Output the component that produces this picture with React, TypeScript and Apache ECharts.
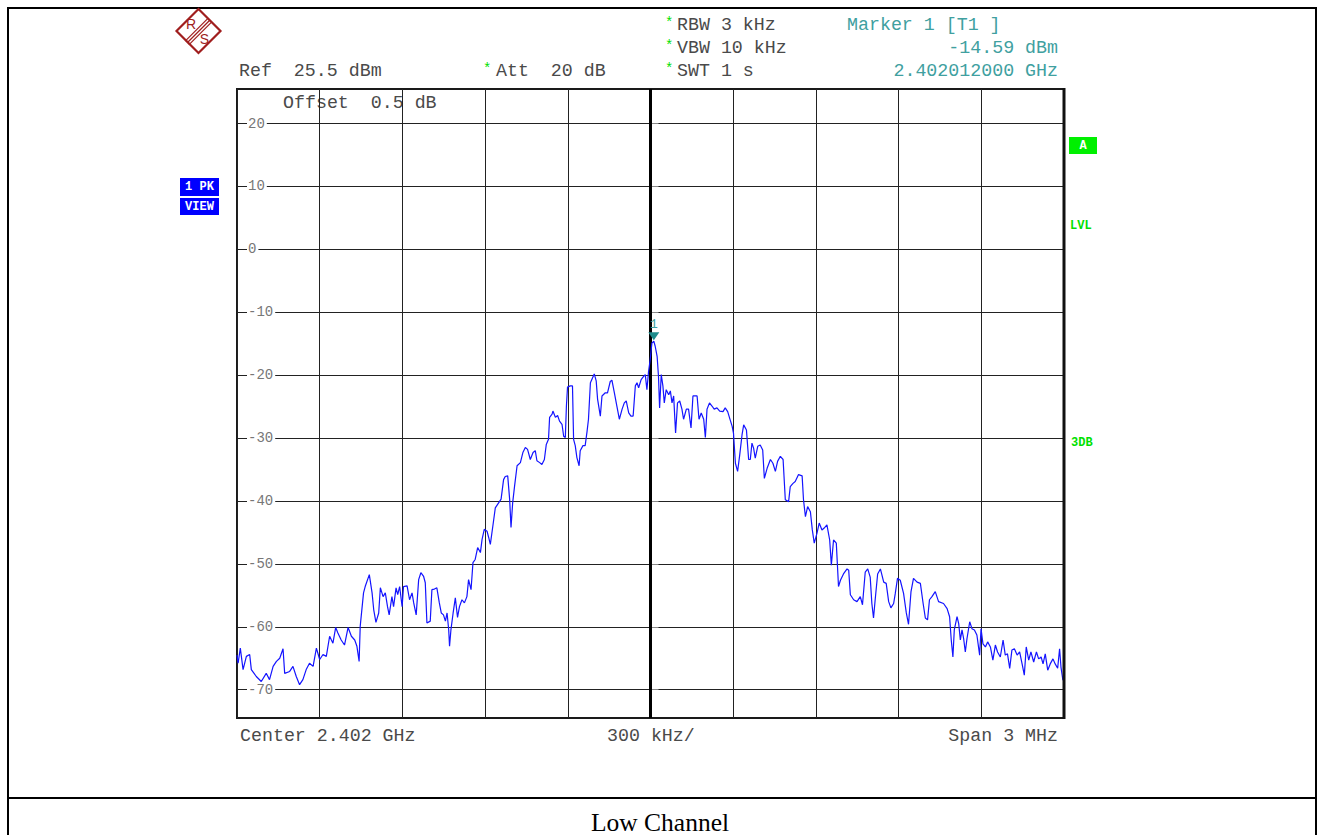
import React, { useEffect, useRef } from "react";
import * as echarts from "echarts";

// Frequency offsets from the 2.402 GHz centre, in kHz
const freqKHz = [
  -1500, -1496, -1488, -1478, -1466, -1454, -1448, -1430, -1412, -1394, -1382, -1369, -1357, -1345, -1333, -1327, -1309, -1297, -1285, -1273, -1261, -1249, -1237, -1224, -1212, -1200, -1188, -1176, -1164, -1152, -1142, -1134, -1122, -1110, -1097, -1085, -1073, -1065, -1057,
  -1053, -1041, -1035, -1020, -1010, -1004, -996, -986, -980, -970, -962, -954, -948, -938, -932, -923, -917, -910, -901, -896, -883, -874, -865, -859, -850, -841, -833, -823, -817, -811, -799, -793, -784, -775, -766, -759, -751, -744, -738, -732, -729, -724, -716, -708, -700, -693, -684, -675, -666, -660, -651, -644, -636, -627,
  -617, -611, -603, -593, -587, -581, -571, -563, -551, -542, -533, -527, -518, -511, -506, -500, -493, -484, -472, -463, -454, -446, -436, -426, -418, -412, -402, -394, -385, -378, -370, -366, -357, -354, -345, -337, -330, -321, -315, -309, -305, -301, -291, -283, -279, -273, -267, -259, -255, -245, -237, -230, -225, -218, -212, -204, -197, -192,
  -182, -176, -164, -156, -146, -140, -131, -122, -113, -103, -95, -88, -79, -71, -63, -55, -49, -43, -34, -25, -19, -13, -7, -1, 5, 12, 17, 24, 29, 33, 39, 45, 50, 57, 66, 72, 78, 84, 91, 98, 106, 114, 120, 130, 138, 147, 154, 163, 169, 176, 184, 193, 199, 205, 214, 223, 231, 241, 251,
  263, 271, 280, 289, 296, 301, 308, 316, 323, 332, 338, 348, 356, 362, 368, 374, 380, 389, 398, 407, 413, 423, 435, 444, 453, 461, 471, 481, 489, 501, 507, 517, 525, 537, 550, 555, 562, 570, 580, 587, 594, 604, 612, 622, 630, 640, 650, 656, 664, 674, 682,
  689, 700, 713, 719, 725, 737, 749, 761, 769, 779, 788, 797, 803, 809, 815, 824, 834, 846, 855, 864, 872, 882, 888, 896, 906, 918, 928, 936, 945, 954, 967, 979, 989, 997, 1005, 1012, 1021, 1033, 1045,
  1063, 1076, 1085, 1091, 1097, 1102, 1112, 1118, 1124, 1130, 1136, 1142, 1148, 1158, 1166, 1175, 1184, 1194, 1199, 1206, 1215, 1223, 1233, 1242, 1251, 1259, 1269, 1279, 1287, 1295, 1303, 1311, 1320, 1330, 1339, 1348, 1356, 1363, 1372, 1380, 1390, 1400, 1408, 1417, 1424, 1432, 1441, 1450, 1460, 1468, 1477, 1484, 1489, 1496, 1500,
];

// Trace level, dBm
const levelDbm = [
  -64.5, -65.8, -63.4, -66.8, -64.7, -64.4, -66.8, -67.9, -68.7, -67.4, -68.4, -66.3, -65.5, -65.0, -63.5, -67.4, -67.1, -66.3, -67.9, -69.2, -68.4, -66.8, -65.8, -66.3, -63.4, -65.2, -64.4, -64.7, -61.5, -62.6, -60.1, -61.0, -62.1, -62.9, -60.1, -61.5, -62.1, -63.1, -65.5,
  -59.9, -54.6, -53.6, -51.7, -54.6, -57.3, -59.3, -57.8, -53.8, -55.2, -54.6, -56.8, -58.1, -55.2, -56.8, -53.8, -54.9, -53.6, -56.8, -53.6, -53.5, -55.7, -54.6, -56.2, -58.1, -52.5, -51.4, -52.0, -53.0, -59.4, -59.1, -54.1, -54.0, -53.8, -56.2, -57.8, -58.1, -59.1, -57.8, -60.5, -63.1, -60.5, -57.8, -55.4, -58.5, -56.8, -55.7, -56.2, -55.2, -52.5, -54.1, -49.8, -49.3, -47.4,
  -48.2, -46.1, -44.5, -44.8, -45.8, -46.9, -43.7, -41.1, -40.3, -39.7, -36.6, -36.1, -36.0, -39.7, -44.2, -40.3, -37.6, -34.4, -33.9, -32.3, -31.5, -31.8, -33.4, -32.3, -32.0, -33.6, -33.9, -34.2, -33.4, -31.0, -30.2, -26.7, -26.2, -25.7, -26.7, -26.4, -27.3, -27.8, -29.7, -29.9, -24.9, -21.9, -21.7, -21.7, -30.2, -31.2, -33.1, -34.4, -32.0, -31.2, -31.2, -28.9, -27.0, -21.2, -20.6, -19.8, -20.9, -23.8,
  -26.5, -23.3, -22.8, -22.8, -21.0, -20.8, -22.8, -24.9, -27.0, -25.4, -24.4, -24.1, -26.0, -26.5, -26.5, -21.7, -21.2, -22.0, -20.7, -20.2, -19.9, -22.3, -19.4, -17.5, -14.9, -14.59, -15.4, -17.0, -20.2, -25.2, -19.9, -21.7, -24.4, -22.3, -23.1, -22.5, -24.4, -23.3, -29.2, -24.4, -24.1, -25.4, -27.0, -25.4, -25.4, -28.4, -23.3, -23.3, -23.3, -27.0, -26.0, -27.0, -29.9, -25.4, -24.4, -24.9, -25.4, -25.2, -25.7,
  -25.8, -25.2, -25.8, -27.1, -28.1, -29.2, -34.0, -35.3, -32.9, -29.5, -27.9, -28.7, -33.4, -33.4, -30.8, -31.6, -33.2, -31.3, -31.1, -31.9, -36.4, -34.8, -33.4, -34.0, -35.3, -33.7, -32.9, -33.4, -39.8, -40.1, -37.7, -37.2, -36.9, -35.8, -36.0, -39.8, -42.5, -40.9, -41.7, -44.6, -46.7, -45.1, -43.5, -44.6, -44.3, -43.8, -46.2, -50.2, -46.2, -46.7, -53.6,
  -52.6, -51.6, -50.8, -51.0, -54.9, -55.7, -56.0, -55.2, -56.5, -51.3, -50.8, -52.1, -56.3, -58.6, -55.7, -51.6, -50.8, -52.9, -53.1, -56.0, -57.0, -56.3, -54.7, -52.3, -52.6, -54.7, -57.8, -59.6, -54.4, -52.3, -52.9, -53.1, -56.3, -58.6, -58.9, -55.7, -55.2, -54.4, -56.0,
  -56.3, -57.1, -58.4, -62.1, -64.8, -60.5, -58.4, -59.5, -62.1, -60.5, -61.9, -64.0, -61.9, -59.2, -60.3, -60.5, -61.3, -64.5, -60.3, -62.7, -63.2, -62.4, -63.2, -65.3, -62.9, -64.0, -64.8, -62.1, -64.5, -64.3, -66.6, -63.7, -63.5, -64.5, -64.0, -65.9, -67.7, -63.2, -65.3, -64.0, -65.6, -64.0, -65.1, -64.8, -65.9, -64.3, -66.9, -65.9, -65.1, -65.9, -66.6, -63.5, -66.4, -68.5, -68.0,
];

const yTicks = [20, 10, 0, -10, -20, -30, -40, -50, -60, -70];
const refLevel = 25.5;
const spanKHz = 3000;
const divKHz = 300;
const markerFreqKHz = 12;
const markerLevel = -14.59;

const headerLeft = { ref: "Ref  25.5 dBm", att: "Att  20 dB", offset: "Offset  0.5 dB" };
const headerMid = ["RBW 3 kHz", "VBW 10 kHz", "SWT 1 s"];
const markerTexts = ["Marker 1 [T1 ]", "-14.59 dBm", "2.402012000 GHz"];
const footerTexts = { center: "Center 2.402 GHz", div: "300 kHz/", span: "Span 3 MHz" };
const caption = "Low Channel";

const MONO = '"Liberation Mono", "Courier New", monospace';
const GREY = "#4a4a4a";
const TEAL = "#40a0a0";
const GREEN = "#00e000";

function txt(text: string, x: number, y: number, extra: any = {}) {
  return {
    type: "text",
    x,
    y,
    silent: true,
    style: {
      text,
      fontFamily: MONO,
      fontSize: 18.3,
      fill: GREY,
      align: "left",
      verticalAlign: "middle",
      ...extra,
    },
  };
}

export default function App() {
  const ref = useRef<HTMLDivElement>(null);

  useEffect(() => {
    if (!ref.current) return;
    const chart = echarts.init(ref.current, null, { renderer: "svg" });
    const data = freqKHz.map((f, i) => [f, levelDbm[i]]);

    const rows = [25, 48, 71];
    const LOGO = "#a01e1e";
    const graphic: any[] = [
      // outer frame
      { type: "rect", shape: { x: 8, y: 8, width: 1308, height: 840 }, style: { fill: "none", stroke: "#000", lineWidth: 2 }, silent: true },
      { type: "line", shape: { x1: 8, y1: 798, x2: 1316, y2: 798 }, style: { stroke: "#000", lineWidth: 2 }, silent: true },
      { type: "text", x: 660, y: 822, silent: true, style: { text: caption, fontFamily: '"Liberation Serif", "Times New Roman", serif', fontSize: 25.5, fill: "#000", align: "center", verticalAlign: "middle" } },
      // logo
      { type: "polygon", shape: { points: [[198.5, 9], [220.5, 31], [198.5, 53], [176.5, 31]] }, style: { fill: "#fff", stroke: LOGO, lineWidth: 2.2 }, silent: true },
      ...[-1.8, 0, 1.8].map((k) => ({ type: "line", shape: { x1: 210 + k, y1: 20 + k, x2: 187 + k, y2: 43 + k }, style: { stroke: LOGO, lineWidth: 1.2 }, silent: true })),
      { type: "text", x: 191, y: 23.5, silent: true, style: { text: "R", fontFamily: '"Liberation Sans", sans-serif', fontSize: 14, fill: LOGO, align: "center", verticalAlign: "middle" } },
      { type: "text", x: 204.5, y: 38.5, silent: true, style: { text: "S", fontFamily: '"Liberation Sans", sans-serif', fontSize: 14, fill: LOGO, align: "center", verticalAlign: "middle" } },
      // header
      txt(headerLeft.ref, 239, rows[2]),
      txt("*", 483, rows[2] - 2, { fill: GREEN, fontSize: 14 }),
      txt(headerLeft.att, 496, rows[2]),
      ...headerMid.flatMap((t, i) => [txt("*", 665, rows[i] - 2, { fill: GREEN, fontSize: 14 }), txt(t, 677, rows[i])]),
      txt(markerTexts[0], 847, rows[0], { fill: TEAL }),
      txt(markerTexts[1], 1058, rows[1], { fill: TEAL, align: "right" }),
      txt(markerTexts[2], 1058, rows[2], { fill: TEAL, align: "right" }),
      txt(headerLeft.offset, 283, 103),
      // footer
      txt(footerTexts.center, 240, 736),
      txt(footerTexts.div, 607, 736),
      txt(footerTexts.span, 1058, 736, { align: "right" }),
      // thicker right frame edge
      { type: "line", shape: { x1: 1064, y1: 88, x2: 1064, y2: 719 }, style: { stroke: "#111", lineWidth: 3 }, silent: true, z: 10 },
      // left indicator boxes
      { type: "rect", shape: { x: 180, y: 178, width: 39, height: 18 }, style: { fill: "#0000ff" }, silent: true },
      { type: "rect", shape: { x: 180, y: 198, width: 39, height: 17 }, style: { fill: "#0000ff" }, silent: true },
      txt("1 PK", 199.5, 187, { fill: "#fff", fontSize: 12, fontWeight: "bold", align: "center" }),
      txt("VIEW", 199.5, 206.5, { fill: "#fff", fontSize: 12, fontWeight: "bold", align: "center" }),
      // right indicators
      { type: "rect", shape: { x: 1069, y: 137, width: 28, height: 17 }, style: { fill: "#00f000" }, silent: true },
      txt("A", 1083, 146, { fill: "#fff", fontSize: 12, fontWeight: "bold", align: "center" }),
      txt("LVL", 1070, 226, { fill: GREEN, fontSize: 12, fontWeight: "bold" }),
      txt("3DB", 1071, 443, { fill: GREEN, fontSize: 12, fontWeight: "bold" }),
    ];

    chart.setOption({
      animation: false,
      backgroundColor: "#fff",
      grid: {
        left: 237,
        top: 89,
        width: 827,
        height: 629,
        show: true,
        borderColor: "#1a1a1a",
        borderWidth: 2,
        backgroundColor: "transparent",
      },
      xAxis: {
        type: "value",
        min: -spanKHz / 2,
        max: spanKHz / 2,
        interval: divKHz,
        axisLine: { show: false },
        axisTick: { show: false },
        axisLabel: { show: false },
        splitLine: { show: true, lineStyle: { color: "#222", width: 1 } },
      },
      yAxis: {
        type: "value",
        min: refLevel - 100,
        max: refLevel,
        axisLine: { show: false },
        axisTick: { show: true, inside: true, length: 8, customValues: yTicks, lineStyle: { color: "#888" } },
        axisLabel: {
          show: true,
          inside: true,
          margin: 10,
          customValues: yTicks,
          fontFamily: MONO,
          fontSize: 14,
          color: "#777",
          backgroundColor: "#fff",
          padding: [0, 2, 0, 1],
        },
        splitLine: { show: true, lineStyle: { color: "#222", width: 1 } },
      },
      graphic,
      series: [
        {
          type: "line",
          data,
          showSymbol: false,
          symbol: "none",
          clip: true,
          lineStyle: { color: "#1414ff", width: 1.2 },
          z: 5,
          markLine: {
            silent: true,
            symbol: "none",
            label: { show: false },
            lineStyle: { color: "#000", width: 3, type: "solid" },
            data: [{ xAxis: 0 }],
            z: 3,
          },
          markPoint: {
            silent: true,
            symbol: "triangle",
            symbolRotate: 180,
            symbolSize: [11, 8],
            symbolOffset: [0, -5],
            itemStyle: { color: "#1e8c8c" },
            label: { show: true, position: "top", distance: 1, formatter: "1", color: TEAL, fontFamily: MONO, fontSize: 13 },
            data: [{ coord: [markerFreqKHz, markerLevel] }],
          },
        },
      ],
    });

    return () => chart.dispose();
  }, []);

  return <div ref={ref} style={{ position: "absolute", left: 0, top: 0, width: 1322, height: 835 }} />;
}
